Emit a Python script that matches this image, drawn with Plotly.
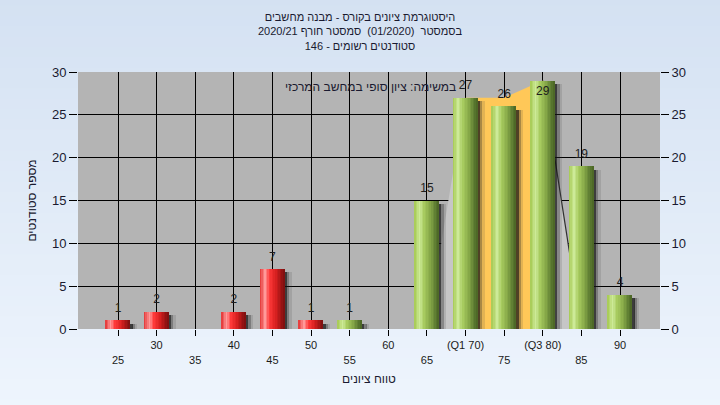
import plotly.graph_objects as go

# ---------------- data ----------------
scores = [25, 30, 35, 40, 45, 50, 55, 60, 65, 70, 75, 80, 85, 90]
counts = [1, 2, 0, 2, 7, 1, 1, 0, 15, 27, 26, 29, 19, 4]
tick_labels = ["25", "30", "35", "40", "45", "50", "55", "60", "65",
               "(Q1 70)", "75", "(Q3 80)", "85", "90"]
pass_mark = 55

# inter-quartile area
area_x = [65, 70, 75, 80, 85]
area_y = [0, 27, 27, 29, 0]

title_lines = ["היסטוגרמת ציונים בקורס - מבנה מחשבים",
               "בסמסטר  (01/2020)  סמסטר חורף 2020/21",
               "סטודנטים רשומים - 146"]
note_text = "במשימה: ציון סופי במחשב המרכזי"
x_title = "טווח ציונים"
y_title = "מספר סטודנטים"

FONT = "Liberation Sans, DejaVu Sans, Arial, sans-serif"
Y_MAX = 30

# ---------------- style helpers ----------------
def hex2rgb(h):
    h = h.lstrip("#")
    return tuple(int(h[i:i + 2], 16) for i in (0, 2, 4))

def interp(stops, t):
    for (t0, c0), (t1, c1) in zip(stops, stops[1:]):
        if t0 <= t <= t1:
            f = (t - t0) / (t1 - t0) if t1 > t0 else 0
            a, b = hex2rgb(c0), hex2rgb(c1)
            return "rgb(%d,%d,%d)" % tuple(round(a[k] + (b[k] - a[k]) * f) for k in range(3))
    return stops[-1][1]

red_stops = [(0, "#e23030"), (0.22, "#ff9a9a"), (0.4, "#ff3a3a"),
             (0.65, "#d82020"), (0.88, "#9a1414"), (1, "#7a1010")]
green_stops = [(0, "#a4c850"), (0.22, "#cdea98"), (0.4, "#a8cc60"),
               (0.65, "#86a848"), (0.88, "#5a7830"), (1, "#4a6424")]

fig = go.Figure()

bar_w = 3.15
N = 16

# shadows
shadow_y = [max(c - 0.4, 0) for c in counts]
for off, col in [(0.0, "rgba(20,20,20,0.75)"), (0.3, "rgba(40,40,40,0.4)"),
                 (0.6, "rgba(60,60,60,0.15)")]:
    fig.add_trace(go.Bar(x=scores, y=shadow_y, width=0.31, offset=bar_w / 2 + off,
                         marker=dict(color=col, line=dict(width=0)),
                         hoverinfo="skip", showlegend=False))

# cylinder-shaded bars
for i in range(N):
    t = (i + 0.5) / N
    cols = [interp(green_stops if s >= pass_mark else red_stops, t) for s in scores]
    fig.add_trace(go.Bar(x=scores, y=counts, width=bar_w / N * 1.08,
                         offset=-bar_w / 2 + i * bar_w / N,
                         marker=dict(color=cols, line=dict(width=0)),
                         hoverinfo="skip", showlegend=False))

# inter-quartile area (behind bars)
fig.add_trace(go.Scatter(x=area_x[0:2], y=area_y[0:2], mode="lines", fill="tozeroy",
                         fillcolor="#c6c6c6", line=dict(width=0, color="#c6c6c6"),
                         hoverinfo="skip", showlegend=False, zorder=-1))
fig.add_trace(go.Scatter(x=area_x[1:4], y=area_y[1:4], mode="lines", fill="tozeroy",
                         fillcolor="#ffc858", line=dict(width=0, color="#ffc858"),
                         hoverinfo="skip", showlegend=False, zorder=-1))
fig.add_trace(go.Scatter(x=area_x[3:5], y=area_y[3:5], mode="lines", fill="tozeroy",
                         fillcolor="#c6c6c6", line=dict(width=1.2, color="#303030"),
                         hoverinfo="skip", showlegend=False, zorder=-1))

# value labels (kept inside the plot when the bar reaches the top)
fig.add_trace(go.Scatter(x=scores, y=counts, mode="markers+text",
                         marker=dict(size=7, opacity=0),
                         text=[str(c) if c > 0 else "" for c in counts],
                         textposition=["bottom center" if c > Y_MAX - 2.5 else "top center"
                                       for c in counts],
                         textfont=dict(family=FONT, size=12, color="#1e1e1e"),
                         hoverinfo="skip", showlegend=False, zorder=2))

# right axis carrier
fig.add_trace(go.Scatter(x=scores, y=counts, mode="none", yaxis="y2",
                         hoverinfo="skip", showlegend=False))

# ---------------- background ----------------
shapes = []
n_strips = 40
top_c, bot_c = hex2rgb("#d4e1f2"), hex2rgb("#eef5fd")
y_lo, y_hi = -76 / 257 - 0.02, 1 + 72 / 257 + 0.02
for j in range(n_strips):
    f = j / (n_strips - 1)
    c = tuple(round(bot_c[k] + (top_c[k] - bot_c[k]) * f) for k in range(3))
    y0 = y_lo + (y_hi - y_lo) * j / n_strips
    y1 = y_lo + (y_hi - y_lo) * (j + 1) / n_strips + 0.003
    shapes.append(dict(type="rect", xref="paper", yref="paper", x0=-0.2, x1=1.2,
                       y0=y0, y1=y1, fillcolor="rgb(%d,%d,%d)" % c,
                       line=dict(width=0), layer="below"))
shapes.append(dict(type="rect", xref="x domain", yref="y domain", x0=0, x1=1, y0=0, y1=1,
                   fillcolor="#b4b4b4", line=dict(width=0), layer="below"))

ticktext = [("<br>" + t) if i % 2 == 0 else t for i, t in enumerate(tick_labels)]

fig.update_layout(
    width=720, height=405,
    margin=dict(l=78, r=60, t=72, b=76),
    barmode="overlay",
    bargap=0,
    paper_bgcolor="#e4edf8",
    plot_bgcolor="#b4b4b4",
    showlegend=False,
    font=dict(family=FONT, size=11, color="#1a1a1a"),
    title=dict(text="<br>".join(title_lines), x=0.5, xanchor="center",
               y=1 - 21 / 405, yanchor="top", yref="container",
               font=dict(family=FONT, size=11, color="#1a1a30")),
    shapes=shapes,
    xaxis=dict(range=[scores[0] - 5.18, scores[-1] + 5.18],
               tickvals=scores, ticktext=ticktext,
               showgrid=True, gridcolor="#000000", gridwidth=1,
               showline=True, linecolor="#000000", linewidth=1, mirror=True,
               ticks="outside", ticklen=6, tickcolor="#000000",
               tickfont=dict(family=FONT, size=11, color="#1a1a1a"),
               zeroline=False,
               title=dict(text=x_title, font=dict(family=FONT, size=12, color="#1a1a30"),
                          standoff=10)),
    yaxis=dict(range=[0, Y_MAX], dtick=5,
               showgrid=True, gridcolor="#000000", gridwidth=1,
               showline=True, linecolor="#000000", linewidth=1,
               ticks="outside", ticklen=8, tickcolor="#000000",
               tickfont=dict(family=FONT, size=13, color="#1a1a30"),
               zeroline=False,
               title=dict(text=y_title, font=dict(family=FONT, size=12, color="#1a1a30"),
                          standoff=12)),
    yaxis2=dict(range=[0, Y_MAX], dtick=5, overlaying="y", side="right",
                showgrid=False, showline=True, linecolor="#000000", linewidth=1,
                ticks="outside", ticklen=8, tickcolor="#000000",
                tickfont=dict(family=FONT, size=13, color="#1a1a30"),
                zeroline=False),
    annotations=[dict(text=note_text, xref="paper", yref="paper",
                      x=0.502, y=0.977, showarrow=False,
                      font=dict(family=FONT, size=12, color="#1a1a30"))],
)

fig.write_html("out.html", config={"displayModeBar": False},
               post_script="document.body.style.margin='0px';")
